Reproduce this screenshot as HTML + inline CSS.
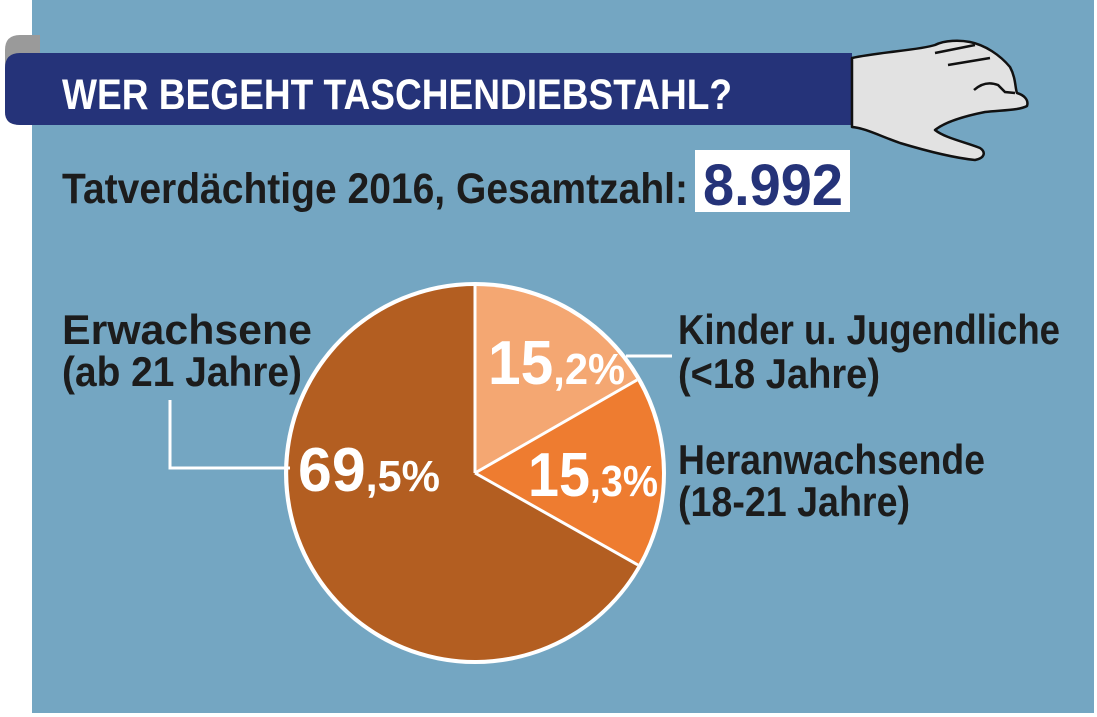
<!DOCTYPE html>
<html><head><meta charset="utf-8"><style>
html,body{margin:0;padding:0;background:#fff;}
svg{display:block;}
text{font-family:"Liberation Sans Narrow","Liberation Sans",sans-serif;font-weight:bold;}
</style></head><body>
<svg width="1097" height="717" viewBox="0 0 1097 717" xmlns="http://www.w3.org/2000/svg">
<rect x="0" y="0" width="1097" height="717" fill="#fff"/>
<rect x="32" y="0" width="1062" height="713" fill="#74a6c2"/>
<path d="M40,35 L20,35 Q5,35 5,50 L5,112 Q5,125 20,125 L40,125 Z" fill="#9a9a9a"/>
<path d="M33,53 L20,53 Q5,53 5,68 L5,112 Q5,125 20,125 L33,125 Z" fill="#253379"/>
<rect x="20" y="53" width="832" height="72" fill="#253379"/>
<text x="62" y="109" font-size="43" fill="#fff" textLength="670" lengthAdjust="spacingAndGlyphs">WER BEGEHT TASCHENDIEBSTAHL?</text>
<path d="M852,58 C880,52 920,50 935,45 C945,40 960,40 970,42 C985,45 1000,55 1010,67 C1016,78 1015,88 1017,93 C1024,95 1029,100 1027,106 C1020,110 1005,110 985,112 C965,116 945,122 935,130 C945,138 965,142 980,148 C986,152 985,158 975,160 C955,158 930,152 900,143 C880,136 865,128 852,127 Z" fill="#e2e2e2" stroke="#111" stroke-width="2.5" stroke-linejoin="round"/>
<path d="M935,53 L975,45 M948,65 L990,58 M974,90 Q985,80 998,85 L1005,92 L1015,93" fill="none" stroke="#111" stroke-width="2.5"/>
<text x="62" y="203" font-size="43" fill="#1c1c1c" textLength="626" lengthAdjust="spacingAndGlyphs">Tatverdächtige 2016, Gesamtzahl:</text>
<rect x="695" y="150" width="155" height="62" fill="#fff"/>
<text x="703" y="205" font-size="58" fill="#253379" textLength="140" lengthAdjust="spacingAndGlyphs">8.992</text>
<circle cx="475" cy="473" r="191" fill="#fff"/>
<path d="M475,473 L475,286 A187,187 0 0 1 637,380 Z" fill="#f4a772"/>
<path d="M475,473 L637,380 A187,187 0 0 1 638,565 Z" fill="#ee7c30"/>
<path d="M475,473 L638,565 A187,187 0 1 1 475,286 Z" fill="#b35e21"/>
<path d="M475,473 L475,286 M475,473 L637,380 M475,473 L638,565" stroke="#fff" stroke-width="3"/>
<path d="M170,400 L170,468 L290,468" fill="none" stroke="#fff" stroke-width="3"/>
<path d="M626,356 L672,356" fill="none" stroke="#fff" stroke-width="3"/>
<text x="298" y="491" font-size="62" fill="#fff" textLength="142" lengthAdjust="spacingAndGlyphs">69<tspan font-size="44">,5%</tspan></text>
<text x="488" y="384" font-size="62" fill="#fff" textLength="137" lengthAdjust="spacingAndGlyphs">15<tspan font-size="44">,2%</tspan></text>
<text x="528" y="496" font-size="62" fill="#fff" textLength="130" lengthAdjust="spacingAndGlyphs">15<tspan font-size="44">,3%</tspan></text>
<g font-size="42" fill="#1c1c1c">
<text x="62" y="344" textLength="250" lengthAdjust="spacingAndGlyphs">Erwachsene</text>
<text x="62" y="386" textLength="240" lengthAdjust="spacingAndGlyphs">(ab 21 Jahre)</text>
<text x="678" y="344" textLength="382" lengthAdjust="spacingAndGlyphs">Kinder u. Jugendliche</text>
<text x="678" y="388" textLength="202" lengthAdjust="spacingAndGlyphs">(&lt;18 Jahre)</text>
<text x="678" y="474" textLength="307" lengthAdjust="spacingAndGlyphs">Heranwachsende</text>
<text x="678" y="516" textLength="232" lengthAdjust="spacingAndGlyphs">(18-21 Jahre)</text>
</g>
</svg>
</body></html>
